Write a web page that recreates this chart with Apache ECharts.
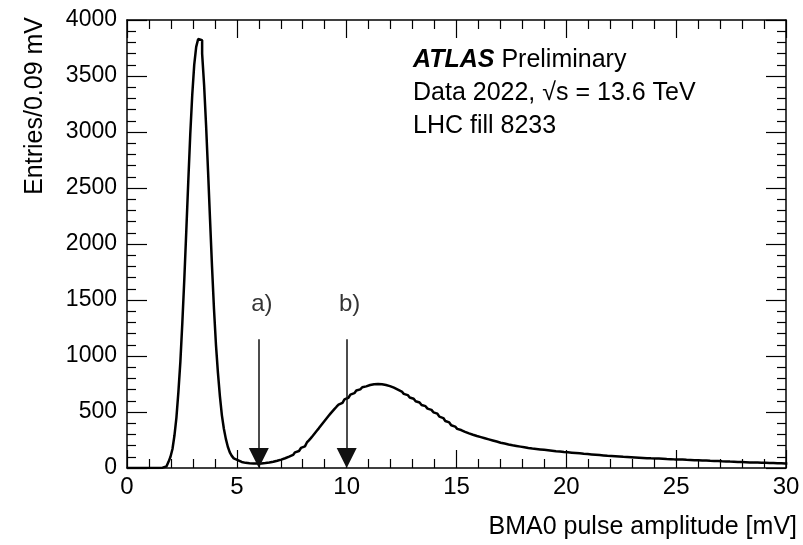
<!DOCTYPE html>
<html>
<head>
<meta charset="utf-8">
<script src="https://cdn.jsdelivr.net/npm/echarts@6/dist/echarts.min.js"></script>
<style>
  html, body { margin: 0; padding: 0; background: #fff; }
  #container { width: 803px; height: 545px; }
</style>
</head>
<body>
<div id="container"></div>
<script>
// histogram, 0.09 mV bins starting at 0 mV
var binWidth = 0.09;
var counts = [
    0, 0, 0, 0, 0, 0, 0, 0, 0, 0,
    0, 0, 0, 0, 1, 1, 2, 3, 6, 15,
    30, 55, 100, 170, 290, 450, 680, 950, 1300, 1690,
    2120, 2560, 2980, 3330, 3600, 3760, 3830, 3820, 3700, 3420,
    3060, 2650, 2220, 1800, 1420, 1100, 850, 640, 470, 350,
    260, 190, 140, 108, 86, 71, 61, 54, 49, 46,
    44, 42, 41, 40, 40, 40, 40, 41, 42, 44,
    46, 49, 52, 56, 60, 65, 70, 75, 80, 87,
    94, 101, 109, 117, 128, 140, 152, 165, 179, 193,
    210, 228, 247, 267, 288, 310, 332, 354, 377, 400,
    422, 444, 466, 488, 508, 528, 547, 565, 582, 598,
    613, 627, 641, 655, 668, 680, 692, 702, 712, 721,
    729, 736, 741, 745, 748, 750, 751, 750, 748, 745,
    741, 736, 731, 725, 717, 708, 700, 692, 683, 673,
    662, 651, 640, 629, 618, 607, 596, 585, 574, 563,
    552, 541, 530, 519, 508, 497, 485, 472, 459, 446,
    433, 420, 407, 394, 382, 370, 359, 349, 339, 331,
    323, 316, 309, 303, 297, 291, 286, 281, 276, 271,
    266, 261, 256, 251, 246, 241, 236, 231, 226, 222,
    218, 214, 210, 206, 203, 200, 197, 194, 191, 188,
    185, 182, 179, 177, 174, 172, 170, 168, 166, 164,
    162, 160, 158, 156, 154, 152, 150, 149, 147, 145,
    143, 142, 140, 139, 137, 135, 134, 132, 131, 129,
    127, 126, 124, 123, 121, 120, 118, 117, 115, 114,
    112, 111, 109, 108, 107, 106, 105, 104, 103, 102,
    100, 99, 98, 97, 96, 95, 94, 93, 92, 91,
    90, 89, 88, 87, 86, 86, 85, 84, 84, 83,
    82, 81, 80, 80, 79, 78, 77, 77, 76, 75,
    75, 74, 73, 72, 72, 71, 70, 70, 69, 68,
    67, 67, 66, 65, 64, 64, 63, 62, 62, 61,
    60, 59, 59, 58, 57, 56, 56, 55, 54, 54,
    53, 52, 52, 51, 50, 50, 49, 49, 48, 48,
    47, 47, 46, 46, 45, 45, 44, 44, 43, 43,
    42, 42, 41, 41
];

// threshold arrows
var arrowX = [6, 10];
var arrowLabels = ['a)', 'b)'];
var arrowTop = 1150;
var arrowEnd = 90;
var labelY = 1460;

var FONT = '"Liberation Sans", Arial, Helvetica, sans-serif';

var histData = [];
for (var i = 0; i < counts.length; i++) {
    histData.push([i * binWidth, counts[i]]);
}
histData.push([counts.length * binWidth, counts[counts.length - 1]]);

var tickStyle = { color: '#000', width: 1.2 };

function plain(v) { return String(v); }

function xAxisCfg(pos, labels) {
    return {
        type: 'value', gridIndex: 0, position: pos,
        min: 0, max: 30, interval: 5,
        axisLine: { show: true, onZero: false, lineStyle: { color: '#000', width: 1.5 } },
        axisTick: { show: true, inside: true, length: 18, lineStyle: tickStyle },
        minorTick: { show: true, splitNumber: 5, length: 9, lineStyle: tickStyle },
        axisLabel: { show: labels, fontSize: 24, color: '#000', fontFamily: FONT, margin: 7, formatter: plain },
        splitLine: { show: false }
    };
}
function yAxisCfg(pos, labels) {
    return {
        type: 'value', gridIndex: 0, position: pos,
        min: 0, max: 4000, interval: 500,
        axisLine: { show: true, onZero: false, lineStyle: { color: '#000', width: 1.5 } },
        axisTick: { show: true, inside: true, length: 20, lineStyle: tickStyle },
        minorTick: { show: true, splitNumber: 5, length: 9, lineStyle: tickStyle },
        axisLabel: { show: labels, fontSize: 23, color: '#000', fontFamily: FONT, margin: 10, formatter: plain },
        splitLine: { show: false }
    };
}

var option = {
    animation: false,
    backgroundColor: '#fff',
    grid: { left: 127, right: 17, top: 20, bottom: 77 },
    xAxis: [xAxisCfg('bottom', true), xAxisCfg('top', false)],
    yAxis: [yAxisCfg('left', true), yAxisCfg('right', false)],
    graphic: [
        {
            type: 'text', left: 413, top: 48,
            style: {
                text: '{b|ATLAS} Preliminary',
                fill: '#000', font: '25px ' + FONT,
                rich: { b: { fontWeight: 'bold', fontStyle: 'italic', fontSize: 25, fontFamily: FONT } }
            }
        },
        { type: 'text', left: 413, top: 81, style: { text: 'Data 2022, \u221As = 13.6 TeV', fill: '#000', font: '25px ' + FONT } },
        { type: 'text', left: 413, top: 114, style: { text: 'LHC fill 8233', fill: '#000', font: '25px ' + FONT } },
        {
            type: 'text', x: 35, y: 17, rotation: Math.PI / 2,
            style: { text: 'Entries/0.09 mV', fill: '#000', font: '25px ' + FONT, align: 'right', verticalAlign: 'middle' }
        },
        {
            type: 'text', x: 797, y: 527,
            style: { text: 'BMA0 pulse amplitude [mV]', fill: '#000', font: '25px ' + FONT, align: 'right', verticalAlign: 'middle' }
        }
    ],
    series: [
        {
            name: 'BMA0',
            type: 'line',
            step: 'end',
            data: histData,
            showSymbol: false,
            clip: true,
            lineStyle: { color: '#000', width: 2.5 },
            markLine: {
                silent: true,
                symbol: ['none', 'triangle'],
                symbolSize: 20,
                label: { show: false },
                lineStyle: { color: '#111', width: 1.5, type: 'solid' },
                data: arrowX.map(function (x) {
                    return [{ coord: [x, arrowTop] }, { coord: [x, arrowEnd] }];
                })
            }
        },
        {
            name: 'labels',
            type: 'scatter',
            symbolSize: 0,
            data: arrowX.map(function (x, k) { return { value: [x, labelY], name: arrowLabels[k] }; }),
            label: {
                show: true, position: 'inside', formatter: '{b}',
                fontSize: 24, color: '#000', fontFamily: FONT, offset: [3, 0]
            }
        }
    ]
};

var myChart = echarts.init(document.getElementById('container'));
myChart.setOption(option);
</script>
</body>
</html>
